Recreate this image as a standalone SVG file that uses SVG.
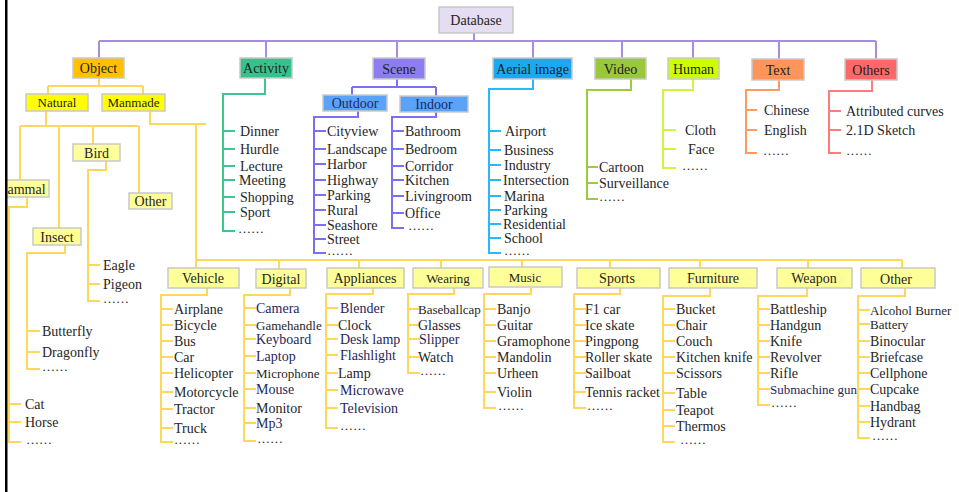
<svg xmlns="http://www.w3.org/2000/svg" width="959" height="492" viewBox="0 0 959 492">
  <style>
    text { font-family: "Liberation Serif", "Times New Roman", serif; font-size: 14px; fill: #262626; }
    .s { font-size: 13px; }
    .e { font-size: 13px; }
    .nv { fill: #1f1f5c; }
    .lbl { text-anchor: middle; fill: #1e1e1e; }
    .navyl { fill: #1e2a5e; }
    .box { stroke: #c9c9c9; stroke-width: 1.5; }
    .c { fill: none; stroke-width: 2; stroke-linejoin: miter; }
    .c-root { stroke: #a68ce6; }
    .c-obj { stroke: #ffd75a; }
    .c-act { stroke: #3cc690; }
    .c-scn { stroke: #7b70f4; }
    .c-aer { stroke: #2ab8f6; }
    .c-vid { stroke: #9ccb3c; }
    .c-hum { stroke: #cff53c; }
    .c-txt { stroke: #ff9a60; }
    .c-oth { stroke: #ff7c7c; }
    .f-db { fill: #e5ddf1; }
    .f-obj { fill: #ffc000; }
    .f-act { fill: #33c48e; }
    .f-scn { fill: #8d7ef0; }
    .f-sub { fill: #5aa3f8; }
    .f-aer { fill: #1ca9f2; }
    .f-vid { fill: #99c93a; }
    .f-hum { fill: #ccff00; }
    .f-txt { fill: #ff955b; }
    .f-oth { fill: #ff6868; }
    .f-y { fill: #ffff00; }
    .f-ly { fill: #ffff99; }
  </style>

  <!-- connectors -->
  <g id="connectors">
    <!-- root level -->
    <path class="c c-root" d="M474 33 V41 M99 41 H876 M99 41 V58 M266 41 V58 M397 41 V58 M533 41 V58 M622 41 V58 M693 41 V58 M779 41 V59 M876 41 V59"/>

    <!-- object branch -->
    <path class="c c-obj" d="M99 78 V86 M48 86 H143 M48 86 V94 M143 86 V94"/>
    <path class="c c-obj" d="M46 111 V126 M20 126 H139 M20 126 V180 M59 126 V228 M93 126 V144 M139 126 V193"/>
    <path class="c c-obj" d="M106 161 V170 H88 V301 H100 M88 265 H100 M88 284 H100"/>
    <path class="c c-obj" d="M65 245 V253 H27 V369 H40 M27 331 H40 M27 352 H40"/>
    <path class="c c-obj" d="M27 197 V207 H9 V442 H21 M9 404 H21 M9 422 H21"/>
    <path class="c c-obj" d="M150 111 V124 H206 M196 124 V268 M196 260 H902 M279 260 V269 M359 260 V268 M441 260 V268 M522 260 V267 M610 260 V268 M700 260 V268 M808 260 V268 M902 260 V268"/>
    <path class="c c-obj" d="M207 288 V295 H161 V442 H173 M161 309 H173 M161 325 H173 M161 341 H173 M161 357 H173 M161 373 H173 M161 392 H173 M161 409 H173 M161 428 H173"/>
    <path class="c c-obj" d="M290 288 V295 H244 V441 H256 M244 308 H256 M244 325 H256 M244 339 H256 M244 356 H256 M244 373 H256 M244 389 H256 M244 408 H256 M244 423 H256"/>
    <path class="c c-obj" d="M373 288 V294 H326 V428 H338 M326 308 H338 M326 325 H338 M326 339 H338 M326 355 H338 M326 373 H338 M326 390 H338 M326 408 H338"/>
    <path class="c c-obj" d="M454 288 V294 H408 V373 H420 M408 309 H420 M408 325 H420 M408 339 H420 M408 357 H420"/>
    <path class="c c-obj" d="M531 288 V294 H484 V408 H496 M484 309 H496 M484 325 H496 M484 341 H496 M484 357 H496 M484 373 H496 M484 392 H496"/>
    <path class="c c-obj" d="M620 288 V294 H574 V408 H586 M574 309 H586 M574 325 H586 M574 341 H586 M574 357 H586 M574 373 H586 M574 392 H586"/>
    <path class="c c-obj" d="M710 288 V296 H663 V442 H675 M663 309 H675 M663 325 H675 M663 341 H675 M663 357 H675 M663 373 H675 M663 393 H675 M663 410 H675 M663 426 H675"/>
    <path class="c c-obj" d="M807 288 V296 H758 V405 H770 M758 309 H770 M758 325 H770 M758 341 H770 M758 357 H770 M758 373 H770 M758 389 H770"/>
    <path class="c c-obj" d="M905 288 V296 H858 V438 H870 M858 310 H870 M858 324 H870 M858 341 H870 M858 357 H870 M858 373 H870 M858 389 H870 M858 406 H870 M858 422 H870"/>

    <!-- activity branch -->
    <path class="c c-act" d="M265 78 V94 H223 V231 H235 M223 131 H235 M223 149 H235 M223 166 H235 M223 180 H235 M223 197 H235 M223 212 H235"/>

    <!-- scene branch -->
    <path class="c c-scn" d="M397 79 V87 M352 87 H436 M352 87 V95 M436 87 V96"/>
    <path class="c c-scn" d="M358 111 V117 H314 V253 H326 M314 131 H326 M314 149 H326 M314 164 H326 M314 180 H326 M314 195 H326 M314 210 H326 M314 225 H326 M314 239 H326"/>
    <path class="c c-scn" d="M436 112 V117 H392 V228 H404 M392 131 H404 M392 149 H404 M392 166 H404 M392 180 H404 M392 196 H404 M392 213 H404"/>

    <!-- aerial image branch -->
    <path class="c c-aer" d="M533 79 V89 H489 V253 H501 M489 131 H501 M489 150 H501 M489 165 H501 M489 180 H501 M489 196 H501 M489 210 H501 M489 224 H501 M489 238 H501"/>

    <!-- video branch -->
    <path class="c c-vid" d="M631 79 V90 H587 V199 H598 M587 167 H598 M587 183 H598"/>

    <!-- human branch -->
    <path class="c c-hum" d="M693 79 V90 H663 V168 H676 M663 130 H676 M663 149 H676"/>

    <!-- text branch -->
    <path class="c c-txt" d="M779 80 V90 H746 V153 H757 M746 110 H757 M746 130 H757"/>

    <!-- others branch -->
    <path class="c c-oth" d="M872 80 V91 H829 V153 H841 M829 111 H841 M829 130 H841"/>
  </g>

  <!-- root -->
  <g id="database"><rect class="box f-db" x="439" y="7" width="74" height="26"/><text class="lbl" x="476" y="25">Database</text></g>

  <!-- top categories -->
  <g id="object"><rect class="box f-obj" x="73" y="58" width="51" height="20"/><text class="lbl" x="98.5" y="73">Object</text></g>
  <g id="activity"><rect class="box f-act" x="240" y="58" width="52" height="20"/><text class="lbl" x="266" y="73">Activity</text></g>
  <g id="scene"><rect class="box f-scn" x="373" y="58" width="52" height="21"/><text class="lbl" x="399" y="73.5">Scene</text></g>
  <g id="aerial-image"><rect class="box f-aer" x="493" y="58" width="79" height="21"/><text class="lbl" x="532.5" y="73.5">Aerial image</text></g>
  <g id="video"><rect class="box f-vid" x="595" y="58" width="51" height="21"/><text class="lbl" x="620.5" y="73.5">Video</text></g>
  <g id="human"><rect class="box f-hum" x="668" y="58" width="51" height="21"/><text class="lbl" x="693.5" y="73.5">Human</text></g>
  <g id="text"><rect class="box f-txt" x="752" y="59" width="52" height="21"/><text class="lbl" x="778" y="74.5">Text</text></g>
  <g id="others"><rect class="box f-oth" x="845" y="59" width="52" height="21"/><text class="lbl" x="871" y="74.5">Others</text></g>

  <!-- object subdivisions -->
  <g id="natural"><rect class="box f-y" x="26" y="94" width="62" height="17"/><text class="lbl s" x="57" y="107">Natural</text></g>
  <g id="manmade"><rect class="box f-y" x="102" y="94" width="63" height="17"/><text class="lbl s" x="133.5" y="107">Manmade</text></g>
  <g id="mammal"><rect class="box f-ly" x="0" y="180" width="49" height="17"/><text x="-5" y="193.5">Mammal</text></g>
  <g id="insect"><rect class="box f-ly" x="33" y="228" width="48" height="17"/><text class="lbl" x="57" y="241.5">Insect</text></g>
  <g id="bird"><rect class="box f-ly" x="73" y="144" width="47" height="17"/><text class="lbl" x="96.5" y="157.5">Bird</text></g>
  <g id="natural-other"><rect class="box f-ly" x="129" y="193" width="43" height="16"/><text class="lbl" x="150.5" y="206">Other</text></g>

  <!-- manmade subdivisions -->
  <g id="vehicle"><rect class="box f-ly" x="168" y="268" width="71" height="20"/><text class="lbl" x="203" y="283">Vehicle</text></g>
  <g id="digital"><rect class="box f-ly" x="256" y="269" width="50" height="19"/><text class="lbl" x="281" y="283.5">Digital</text></g>
  <g id="appliances"><rect class="box f-ly" x="327" y="268" width="77" height="20"/><text class="lbl" x="365" y="283">Appliances</text></g>
  <g id="wearing"><rect class="box f-ly" x="413" y="268" width="70" height="20"/><text class="lbl s" x="448" y="282.5">Wearing</text></g>
  <g id="music"><rect class="box f-ly" x="489" y="267" width="73" height="20"/><text class="lbl s" x="525" y="281.5">Music</text></g>
  <g id="sports"><rect class="box f-ly" x="577" y="268" width="83" height="20"/><text class="lbl" x="617" y="282.5">Sports</text></g>
  <g id="furniture"><rect class="box f-ly" x="669" y="268" width="88" height="20"/><text class="lbl" x="713" y="283">Furniture</text></g>
  <g id="weapon"><rect class="box f-ly" x="777" y="268" width="75" height="20"/><text class="lbl" x="814" y="283">Weapon</text></g>
  <g id="manmade-other"><rect class="box f-ly" x="861" y="268" width="74" height="20"/><text class="lbl" x="896" y="283.5">Other</text></g>

  <!-- scene subdivisions -->
  <g id="outdoor"><rect class="box f-sub" x="323" y="95" width="64" height="16"/><text class="lbl navyl" x="355" y="108">Outdoor</text></g>
  <g id="indoor"><rect class="box f-sub" x="400" y="96" width="68" height="16"/><text class="lbl navyl" x="434" y="109">Indoor</text></g>

  <!-- leaf lists -->
  <g id="activity-items">
    <text x="240" y="136">Dinner</text><text x="240" y="154">Hurdle</text><text x="240" y="171">Lecture</text>
    <text x="239" y="185">Meeting</text><text x="240" y="202">Shopping</text><text x="240" y="217">Sport</text>
    <text class="e" x="238" y="232.5">……</text>
  </g>
  <g id="outdoor-items">
    <text x="327" y="136">Cityview</text><text x="327" y="154">Landscape</text><text x="327" y="169">Harbor</text>
    <text x="327" y="185">Highway</text><text x="327" y="200">Parking</text><text x="327" y="215">Rural</text>
    <text x="327" y="230">Seashore</text><text x="327" y="244">Street</text><text class="e" x="327" y="255">……</text>
  </g>
  <g id="indoor-items">
    <text x="405" y="136">Bathroom</text><text x="405" y="154">Bedroom</text><text x="405" y="171">Corridor</text>
    <text x="405" y="185">Kitchen</text><text x="405" y="201">Livingroom</text><text x="405" y="218">Office</text>
    <text class="e" x="408" y="230">……</text>
  </g>
  <g id="aerial-items">
    <text x="505" y="136">Airport</text><text x="504" y="155">Business</text><text x="504" y="170">Industry</text>
    <text x="503" y="185">Intersection</text><text x="504" y="201">Marina</text><text x="504" y="215">Parking</text>
    <text x="503" y="229">Residential</text><text x="504" y="243">School</text><text class="e" x="504" y="255">……</text>
  </g>
  <g id="video-items">
    <text x="599" y="172">Cartoon</text><text x="599" y="188">Surveillance</text><text class="e" x="599" y="201">……</text>
  </g>
  <g id="human-items">
    <text x="685" y="135">Cloth</text><text x="688" y="154">Face</text><text class="e" x="682" y="169.5">……</text>
  </g>
  <g id="text-items">
    <text x="764" y="115">Chinese</text><text x="764" y="135">English</text><text class="e" x="763" y="154.5">……</text>
  </g>
  <g id="others-items">
    <text x="846" y="116">Attributed curves</text><text x="846" y="135">2.1D Sketch</text><text class="e" x="846" y="154.5">……</text>
  </g>
  <g id="bird-items">
    <text x="103" y="270">Eagle</text><text x="103" y="289">Pigeon</text><text class="e" x="103" y="303">……</text>
  </g>
  <g id="insect-items">
    <text x="42" y="336">Butterfly</text><text x="42" y="357">Dragonfly</text><text class="e" x="42" y="371">……</text>
  </g>
  <g id="mammal-items">
    <text x="25" y="409">Cat</text><text x="25" y="427">Horse</text><text class="e" x="26" y="444">……</text>
  </g>
  <g id="vehicle-items">
    <text x="174" y="314">Airplane</text><text x="174" y="330">Bicycle</text><text x="174" y="346">Bus</text>
    <text x="174" y="362">Car</text><text x="174" y="378">Helicopter</text><text x="174" y="397">Motorcycle</text>
    <text x="174" y="414">Tractor</text><text x="174" y="432.5">Truck</text><text class="e" x="174" y="444">……</text>
  </g>
  <g id="digital-items">
    <text class="nv" x="256" y="313">Camera</text><text class="s" x="256" y="329.5">Gamehandle</text>
    <text class="nv" x="256" y="344">Keyboard</text><text class="nv" x="256" y="361">Laptop</text>
    <text class="s" x="256" y="377.5">Microphone</text><text class="nv" x="256" y="394">Mouse</text>
    <text x="256" y="413">Monitor</text><text class="nv" x="256" y="428">Mp3</text><text class="e" x="257" y="443">……</text>
  </g>
  <g id="appliances-items">
    <text class="nv" x="340" y="313">Blender</text><text x="338" y="330">Clock</text>
    <text class="nv" x="340" y="344">Desk lamp</text><text class="nv" x="340" y="360">Flashlight</text>
    <text x="338" y="378">Lamp</text><text class="nv" x="340" y="395">Microwave</text>
    <text class="nv" x="340" y="413">Television</text><text class="e" x="340" y="430">……</text>
  </g>
  <g id="wearing-items">
    <text class="s" x="418" y="313.5">Baseballcap</text><text x="418" y="330">Glasses</text>
    <text class="nv" x="419" y="344">Slipper</text><text x="418" y="362">Watch</text><text class="e" x="420" y="375">……</text>
  </g>
  <g id="music-items">
    <text x="497" y="314">Banjo</text><text x="497" y="330">Guitar</text><text x="497" y="346">Gramophone</text>
    <text x="497" y="362">Mandolin</text><text x="497" y="378">Urheen</text><text x="497" y="397">Violin</text>
    <text class="e" x="498" y="410">……</text>
  </g>
  <g id="sports-items">
    <text x="585" y="314">F1 car</text><text x="585" y="330">Ice skate</text><text x="585" y="346">Pingpong</text>
    <text x="585" y="362">Roller skate</text><text x="585" y="378">Sailboat</text><text x="585" y="397">Tennis racket</text>
    <text class="e" x="587" y="410">……</text>
  </g>
  <g id="furniture-items">
    <text x="676" y="314">Bucket</text><text x="676" y="330">Chair</text><text x="676" y="346">Couch</text>
    <text x="676" y="362">Kitchen knife</text><text x="676" y="378">Scissors</text><text x="676" y="398">Table</text>
    <text x="676" y="415">Teapot</text><text x="676" y="431">Thermos</text><text class="e" x="680" y="444">……</text>
  </g>
  <g id="weapon-items">
    <text x="770" y="314">Battleship</text><text x="770" y="330">Handgun</text><text x="770" y="346">Knife</text>
    <text x="770" y="362">Revolver</text><text x="770" y="378">Rifle</text>
    <text class="s nv" x="770" y="393.5">Submachine gun</text><text class="e" x="771" y="407">……</text>
  </g>
  <g id="other-items">
    <text class="s" x="870" y="314.5">Alcohol Burner</text><text class="s" x="870" y="328.5">Battery</text>
    <text x="870" y="346">Binocular</text><text x="870" y="362">Briefcase</text><text x="870" y="378">Cellphone</text>
    <text x="870" y="394">Cupcake</text><text x="870" y="411">Handbag</text><text x="870" y="427">Hydrant</text>
    <text class="e" x="872" y="440">……</text>
  </g>

  <!-- left margin and frame edge -->
  <rect x="0" y="0" width="5" height="492" fill="#fff"/>
  <rect x="5" y="0" width="2.5" height="492" fill="#000"/>
</svg>
